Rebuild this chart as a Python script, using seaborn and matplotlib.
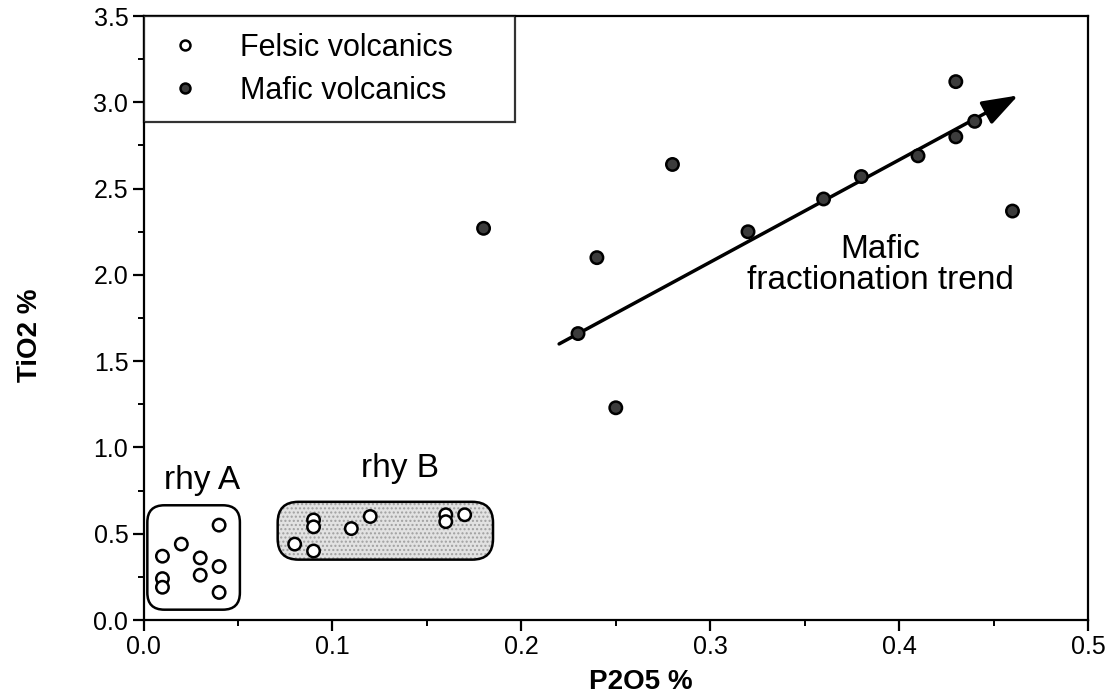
import matplotlib
matplotlib.use("Agg")
import matplotlib.pyplot as plt
import seaborn as sns
import pandas as pd
from matplotlib.patches import FancyBboxPatch
from matplotlib.ticker import MultipleLocator, FormatStrFormatter

# ---- data ----
felsic_p2o5 = [0.04, 0.02, 0.01, 0.03, 0.04, 0.01, 0.01, 0.03, 0.04,
               0.08, 0.09, 0.09, 0.09, 0.11, 0.12, 0.16, 0.16, 0.17]
felsic_tio2 = [0.55, 0.44, 0.37, 0.36, 0.31, 0.24, 0.19, 0.26, 0.16,
               0.44, 0.58, 0.54, 0.40, 0.53, 0.60, 0.61, 0.57, 0.61]
mafic_p2o5 = [0.18, 0.23, 0.24, 0.25, 0.28, 0.32, 0.36, 0.38, 0.41, 0.43, 0.43, 0.44, 0.46]
mafic_tio2 = [2.27, 1.66, 2.10, 1.23, 2.64, 2.25, 2.44, 2.57, 2.69, 3.12, 2.80, 2.89, 2.37]
groups = ["Felsic volcanics", "Mafic volcanics"]

# trend arrow (start, end) and field boxes (x0, y0, x1, y1)
trend_start = (0.22, 1.60)
trend_end = (0.463, 3.04)
rhyA_box = (0.002, 0.06, 0.051, 0.665)
rhyB_box = (0.071, 0.35, 0.185, 0.685)

df = pd.DataFrame({
    "P2O5": felsic_p2o5 + mafic_p2o5,
    "TiO2": felsic_tio2 + mafic_tio2,
    "group": [groups[0]] * len(felsic_p2o5) + [groups[1]] * len(mafic_p2o5),
})

sns.set_theme(style="ticks")
plt.rcParams["font.family"] = ["Liberation Sans", "DejaVu Sans"]
plt.rcParams["text.color"] = "black"
plt.rcParams["axes.labelcolor"] = "black"

fig = plt.figure(figsize=(11.18, 6.98), dpi=100)
ax = fig.add_axes([0.1284, 0.1117, 0.8448, 0.8653])
ax.set_xlim(0, 0.5)
ax.set_ylim(0, 3.5)

# aspect correction for rounded corners
asp = (3.5 / (0.8653 * 698)) / (0.5 / (0.8448 * 1118))

x0, y0, x1, y1 = rhyB_box
ax.add_patch(FancyBboxPatch((x0, y0), x1 - x0, y1 - y0,
                            boxstyle="round,pad=0,rounding_size=0.011",
                            mutation_aspect=asp, facecolor="#e2e2e2",
                            edgecolor="#a0a0a0", hatch="....", linewidth=0, zorder=1))
ax.add_patch(FancyBboxPatch((x0, y0), x1 - x0, y1 - y0,
                            boxstyle="round,pad=0,rounding_size=0.011",
                            mutation_aspect=asp, facecolor="none",
                            edgecolor="black", linewidth=1.8, zorder=2))
x0, y0, x1, y1 = rhyA_box
ax.add_patch(FancyBboxPatch((x0, y0), x1 - x0, y1 - y0,
                            boxstyle="round,pad=0,rounding_size=0.009",
                            mutation_aspect=asp, facecolor="none",
                            edgecolor="black", linewidth=1.8, zorder=2))

# trend arrow
ax.annotate("", xy=trend_end, xytext=trend_start,
            arrowprops=dict(arrowstyle="-|>,head_length=1.0,head_width=0.35",
                            color="black", lw=2.5, mutation_scale=22,
                            shrinkA=0, shrinkB=0), zorder=3)

sns.scatterplot(data=df, x="P2O5", y="TiO2", hue="group", style="group",
                hue_order=groups, palette={groups[0]: "white", groups[1]: "#3c3c3c"},
                markers={groups[0]: "o", groups[1]: "o"},
                s=80, edgecolor="black", linewidth=1.8, ax=ax, zorder=4, legend=True)

# legend
handles, labels = ax.get_legend_handles_labels()
for h in handles:
    h.set_markeredgecolor("black")
    h.set_markeredgewidth(1.8)
leg_w = (515 - 143.5) / 944.5
leg = ax.legend(handles, labels, loc="upper left", bbox_to_anchor=(0, 0, leg_w, 1),
                mode="expand", borderaxespad=0, frameon=True, fancybox=False,
                fontsize=22, markerscale=0.8, handletextpad=1.0, borderpad=0.55,
                labelspacing=0.42, handlelength=1.6)
leg.get_frame().set_edgecolor("black")
leg.get_frame().set_linewidth(1.6)

# annotations
ax.text(0.031, 0.81, "rhy A", fontsize=24, ha="center", va="center")
ax.text(0.136, 0.88, "rhy B", fontsize=24, ha="center", va="center")
ax.text(0.390, 2.06, "Mafic\nfractionation trend", fontsize=24, ha="center",
        va="center", linespacing=1.0)

# axes styling
ax.xaxis.set_major_locator(MultipleLocator(0.1))
ax.xaxis.set_minor_locator(MultipleLocator(0.05))
ax.yaxis.set_major_locator(MultipleLocator(0.5))
ax.yaxis.set_minor_locator(MultipleLocator(0.25))
ax.xaxis.set_major_formatter(FormatStrFormatter("%.1f"))
ax.yaxis.set_major_formatter(FormatStrFormatter("%.1f"))
ax.tick_params(which="major", direction="out", length=8, width=1.6, labelsize=18,
               color="black", labelcolor="black", pad=3)
ax.tick_params(which="minor", direction="out", length=4.5, width=1.4, color="black")
ax.tick_params(top=False, right=False)
for sp in ax.spines.values():
    sp.set_visible(True)
    sp.set_linewidth(1.6)
    sp.set_color("black")

ax.set_xlabel("P2O5 %", fontsize=20, fontweight="bold", va="center")
ax.set_ylabel("TiO2 %", fontsize=20, fontweight="bold", va="center")
ax.xaxis.set_label_coords(0.526, -0.103)
ax.yaxis.set_label_coords(-0.12, 0.472)

fig.savefig("out.png", dpi=100, facecolor="white")
